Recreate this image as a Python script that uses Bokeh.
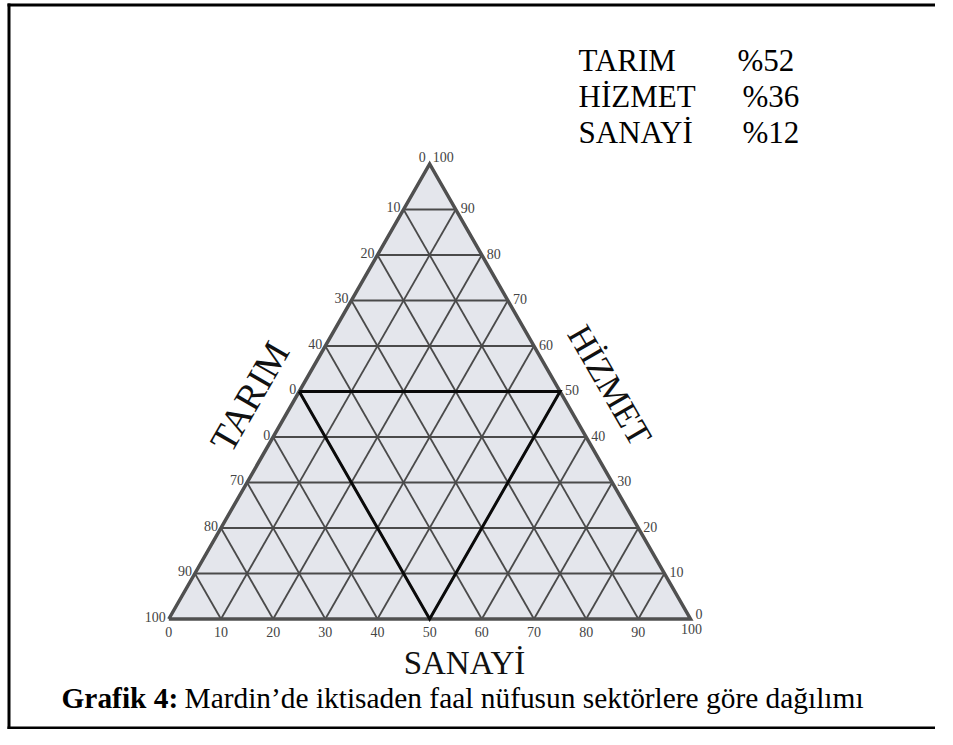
import math
from bokeh.plotting import figure
from bokeh.models import Range1d
from bokeh.core.properties import value
from bokeh.embed import file_html
from bokeh.resources import INLINE

# ---------------- data ----------------
sectors = ["TARIM", "HİZMET", "SANAYİ"]
shares = [52, 36, 12]
share_labels = ["%52", "%36", "%12"]

grid_levels = [10, 20, 30, 40, 50, 60, 70, 80, 90]
# HİZMET levels of the horizontal lines, top to bottom
hizmet_levels = [90, 80, 70, 60, 50, 40, 30, 20, 10, 0]
left_tick_labels = ["10", "20", "30", "40", "0", "0", "70", "80", "90", "100"]   # TARIM side
right_tick_labels = ["90", "80", "70", "60", "50", "40", "30", "20", "10"]      # HİZMET side
bottom_levels = [0, 10, 20, 30, 40, 50, 60, 70, 80, 90]
bottom_tick_labels = ["0", "10", "20", "30", "40", "50", "60", "70", "80", "90"]  # SANAYİ side

# highlighted inner triangle (TARIM, HİZMET, SANAYİ)
tri_tarim = [50, 0, 50]
tri_hizmet = [50, 50, 0]
tri_sanayi = [0, 50, 50]

caption_bold = "Grafik 4:"
caption_rest = "Mardin’de iktisaden faal nüfusun sektörlere göre dağılımı"

# ---------------- geometry ----------------
R3 = math.sqrt(3) / 2


def tx(s, h):
    return s + h / 2.0


def ty(s, h):
    return h * R3


SX = 5.217          # px per unit, horizontal
SY = 5.254          # px per unit, vertical
OX, OY = 168.3, 618.5   # picture position of the bottom-left corner
W, H = 935, 729


def px(X):
    return (X - OX) / SX


def py(Y):
    return (OY - Y) / SY


p = figure(width=W, height=H, output_backend="svg", toolbar_location=None,
           x_range=Range1d(px(0), px(W)), y_range=Range1d(py(H), py(0)),
           x_axis_location=None, y_axis_location=None, min_border=0,
           outline_line_color=None, background_fill_color="white",
           border_fill_color="white")
p.grid.visible = False

SERIF = value("Liberation Serif")

# frame (left, top, bottom)
p.segment(x0=[px(8.5), px(7), px(7)], y0=[py(3), py(4.5), py(727.5)],
          x1=[px(8.5), px(W), px(W)], y1=[py(H), py(4.5), py(727.5)],
          line_color="black", line_width=3)

# triangle body
cs = [0, 100, 0]
ch = [0, 0, 100]
p.patch([tx(s, h) for s, h in zip(cs, ch)], [ty(s, h) for s, h in zip(cs, ch)],
        fill_color="#e4e6ec", line_color=None)

# grid lines
gx, gy = [], []
for k in grid_levels:
    # constant HİZMET (horizontal)
    gx.append([tx(0, k), tx(100 - k, k)]); gy.append([ty(0, k), ty(100 - k, k)])
    # constant SANAYİ
    gx.append([tx(k, 0), tx(k, 100 - k)]); gy.append([ty(k, 0), ty(k, 100 - k)])
    # constant TARIM
    gx.append([tx(100 - k, 0), tx(0, 100 - k)]); gy.append([ty(100 - k, 0), ty(0, 100 - k)])
p.multi_line(gx, gy, line_color="#4a4a4a", line_width=1.8)

# outer edges
p.line([tx(s, h) for s, h in zip(cs + [0], ch + [0])],
       [ty(s, h) for s, h in zip(cs + [0], ch + [0])],
       line_color="#505050", line_width=3.5, line_join="miter")

# highlighted triangle
p.line([tx(s, h) for s, h in zip(tri_sanayi + [tri_sanayi[0]], tri_hizmet + [tri_hizmet[0]])],
       [ty(s, h) for s, h in zip(tri_sanayi + [tri_sanayi[0]], tri_hizmet + [tri_hizmet[0]])],
       line_color="#0a0a0a", line_width=3, line_join="miter")

TICK = dict(text_font=SERIF, text_font_size="14px", text_color="#444444")

# left (TARIM) tick labels
p.text([tx(0, h) for h in hizmet_levels], [ty(0, h) for h in hizmet_levels], left_tick_labels,
       text_align="right", text_baseline="middle", x_offset=-3, y_offset=-2, **TICK)
# right (HİZMET) tick labels
rl = hizmet_levels[:9]
p.text([tx(100 - h, h) for h in rl], [ty(100 - h, h) for h in rl], right_tick_labels,
       text_align="left", text_baseline="middle", x_offset=5, y_offset=-1, **TICK)
# bottom (SANAYİ) tick labels
p.text([tx(s, 0) for s in bottom_levels], [ty(s, 0) for s in bottom_levels], bottom_tick_labels,
       text_align="center", text_baseline="middle", y_offset=13, **TICK)
# corner labels
p.text([tx(0, 100)], [ty(0, 100)], ["0"], text_align="right", text_baseline="middle",
       x_offset=-4, y_offset=-7, **TICK)
p.text([tx(0, 100)], [ty(0, 100)], ["100"], text_align="left", text_baseline="middle",
       x_offset=3, y_offset=-7, **TICK)
p.text([tx(100, 0)], [ty(100, 0)], ["0"], text_align="left", text_baseline="middle",
       x_offset=5, y_offset=-5, **TICK)
p.text([tx(100, 0)], [ty(100, 0)], ["100"], text_align="center", text_baseline="middle",
       x_offset=1, y_offset=10, **TICK)

# axis titles
TITLE = dict(text_font=SERIF, text_color="#111111",
             text_align="center", text_baseline="middle")
p.text([px(249)], [py(396)], [sectors[0]], angle=math.pi / 3, text_font_size="38px", **TITLE)
p.text([px(609)], [py(385)], [sectors[1]], angle=-math.pi / 3, text_font_size="35px", **TITLE)
p.text([px(464)], [py(662)], [sectors[2]], text_font_size="33px", **TITLE)

# legend of shares
LEG = dict(text_font=SERIF, text_font_size="31px", text_color="#000000",
           text_align="left", text_baseline="middle")
p.text([px(578)] * 3, [py(60), py(96), py(132)], sectors, **LEG)
p.text([px(737), px(742), px(742)], [py(60), py(96), py(132)], share_labels, **LEG)

# caption
CAP = dict(text_font=SERIF, text_font_size="29.4px", text_color="#000000",
           text_align="left", text_baseline="middle")
p.text([px(61)], [py(697)], [caption_bold], text_font_style="bold", **CAP)
p.text([px(184)], [py(697)], [caption_rest], **CAP)

open("out.html", "w").write(file_html(p, INLINE))
